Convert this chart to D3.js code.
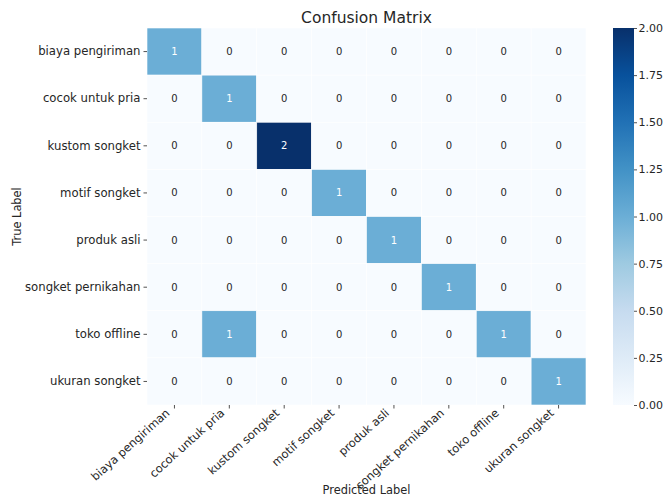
<!DOCTYPE html>
<html><head><meta charset="utf-8">
<script src="https://cdn.jsdelivr.net/npm/d3@7"></script>
<style>body{margin:0;background:#fff}svg{display:block}text{font-family:"DejaVu Sans",sans-serif}</style>
</head><body>
<svg id="c" width="665" height="497"></svg>
<script>
const labels = ["biaya pengiriman","cocok untuk pria","kustom songket","motif songket","produk asli","songket pernikahan","toko offline","ukuran songket"];
const matrix = [
  [1,0,0,0,0,0,0,0],
  [0,1,0,0,0,0,0,0],
  [0,0,2,0,0,0,0,0],
  [0,0,0,1,0,0,0,0],
  [0,0,0,0,1,0,0,0],
  [0,0,0,0,0,1,0,0],
  [0,1,0,0,0,0,1,0],
  [0,0,0,0,0,0,0,1]
];
const cbTicks = [0,0.25,0.5,0.75,1,1.25,1.5,1.75,2];
const title = "Confusion Matrix", xTitle = "Predicted Label", yTitle = "True Label";

const blues = ['#f7fbff','#deebf7','#c6dbef','#9ecae1','#6baed6','#4292c6','#2171b5','#08519c','#08306b'];
const vmin = 0, vmax = 2;
const color = d3.scaleLinear().domain(blues.map((_, i) => vmin + (vmax - vmin) * i / (blues.length - 1))).range(blues);

const svg = d3.select("#c");
const L = 147, R = 586, T = 28, B = 405;
const x = d3.scaleBand().domain(labels).range([L, R]);
const y = d3.scaleBand().domain(labels).range([T, B]);
const txt = "#262626";

const cells = [];
matrix.forEach((row, i) => row.forEach((v, j) => cells.push({r: labels[i], c: labels[j], v})));

svg.append("g").selectAll("rect").data(cells).join("rect")
  .attr("x", d => x(d.c)).attr("y", d => y(d.r))
  .attr("width", x.bandwidth()).attr("height", y.bandwidth())
  .attr("fill", d => color(d.v)).attr("stroke", "#fff").attr("stroke-width", 0.6);

function lum(hex) {
  const c = d3.rgb(hex);
  const f = v => { v /= 255; return v <= 0.03928 ? v / 12.92 : Math.pow((v + 0.055) / 1.055, 2.4); };
  return 0.2126 * f(c.r) + 0.7152 * f(c.g) + 0.0722 * f(c.b);
}
svg.append("g").selectAll("text").data(cells).join("text")
  .attr("x", d => x(d.c) + x.bandwidth() / 2).attr("y", d => y(d.r) + y.bandwidth() / 2)
  .attr("dy", "0.35em").attr("text-anchor", "middle").attr("font-size", 10)
  .attr("fill", d => lum(color(d.v)) > 0.408 ? txt : "#fff")
  .text(d => d.v);

// y axis
const yAx = svg.append("g").attr("transform", `translate(${L},0)`)
  .call(d3.axisLeft(y).tickSize(3.5).tickPadding(3));
yAx.select(".domain").remove();
yAx.selectAll("line").attr("stroke", txt).attr("stroke-width", 0.8);
yAx.selectAll("text").attr("font-size", 11.7).attr("fill", txt).attr("font-family", "DejaVu Sans");

// x axis
const xAx = svg.append("g").attr("transform", `translate(0,${B})`)
  .call(d3.axisBottom(x).tickSize(3.5).tickPadding(3));
xAx.select(".domain").remove();
xAx.selectAll("line").attr("stroke", txt).attr("stroke-width", 0.8);
xAx.selectAll("text").attr("font-size", 11.5).attr("fill", txt).attr("font-family", "DejaVu Sans")
  .attr("text-anchor", "end").attr("dy", null).attr("y", 0)
  .attr("transform", "translate(-4,9) rotate(-42)");

// titles
svg.append("text").attr("x", (L + R) / 2).attr("y", 23).attr("text-anchor", "middle")
  .attr("font-size", 15.5).attr("fill", txt).text(title);
svg.append("text").attr("x", (L + R) / 2).attr("y", 494).attr("text-anchor", "middle")
  .attr("font-size", 11.4).attr("fill", txt).text(xTitle);
svg.append("text").attr("transform", `translate(21,${(T + B) / 2}) rotate(-90)`).attr("text-anchor", "middle")
  .attr("font-size", 11.4).attr("fill", txt).text(yTitle);

// colorbar
const cbL = 613, cbW = 21;
const cy = d3.scaleLinear().domain([vmin, vmax]).range([B, T]);
const defs = svg.append("defs");
const grad = defs.append("linearGradient").attr("id", "cbg").attr("x1", 0).attr("y1", 1).attr("x2", 0).attr("y2", 0);
blues.forEach((c, i) => grad.append("stop").attr("offset", i / (blues.length - 1)).attr("stop-color", c));
svg.append("rect").attr("x", cbL).attr("y", T).attr("width", cbW).attr("height", B - T).attr("fill", "url(#cbg)");
const cAx = svg.append("g").attr("transform", `translate(${cbL + cbW},0)`)
  .call(d3.axisRight(cy).tickValues(cbTicks).tickFormat(d3.format(".2f")).tickSize(3).tickPadding(1.5));
cAx.select(".domain").remove();
cAx.selectAll("line").attr("stroke", txt).attr("stroke-width", 0.8);
cAx.selectAll("text").attr("font-size", 11).attr("fill", txt).attr("font-family", "DejaVu Sans");
</script>
</body></html>
